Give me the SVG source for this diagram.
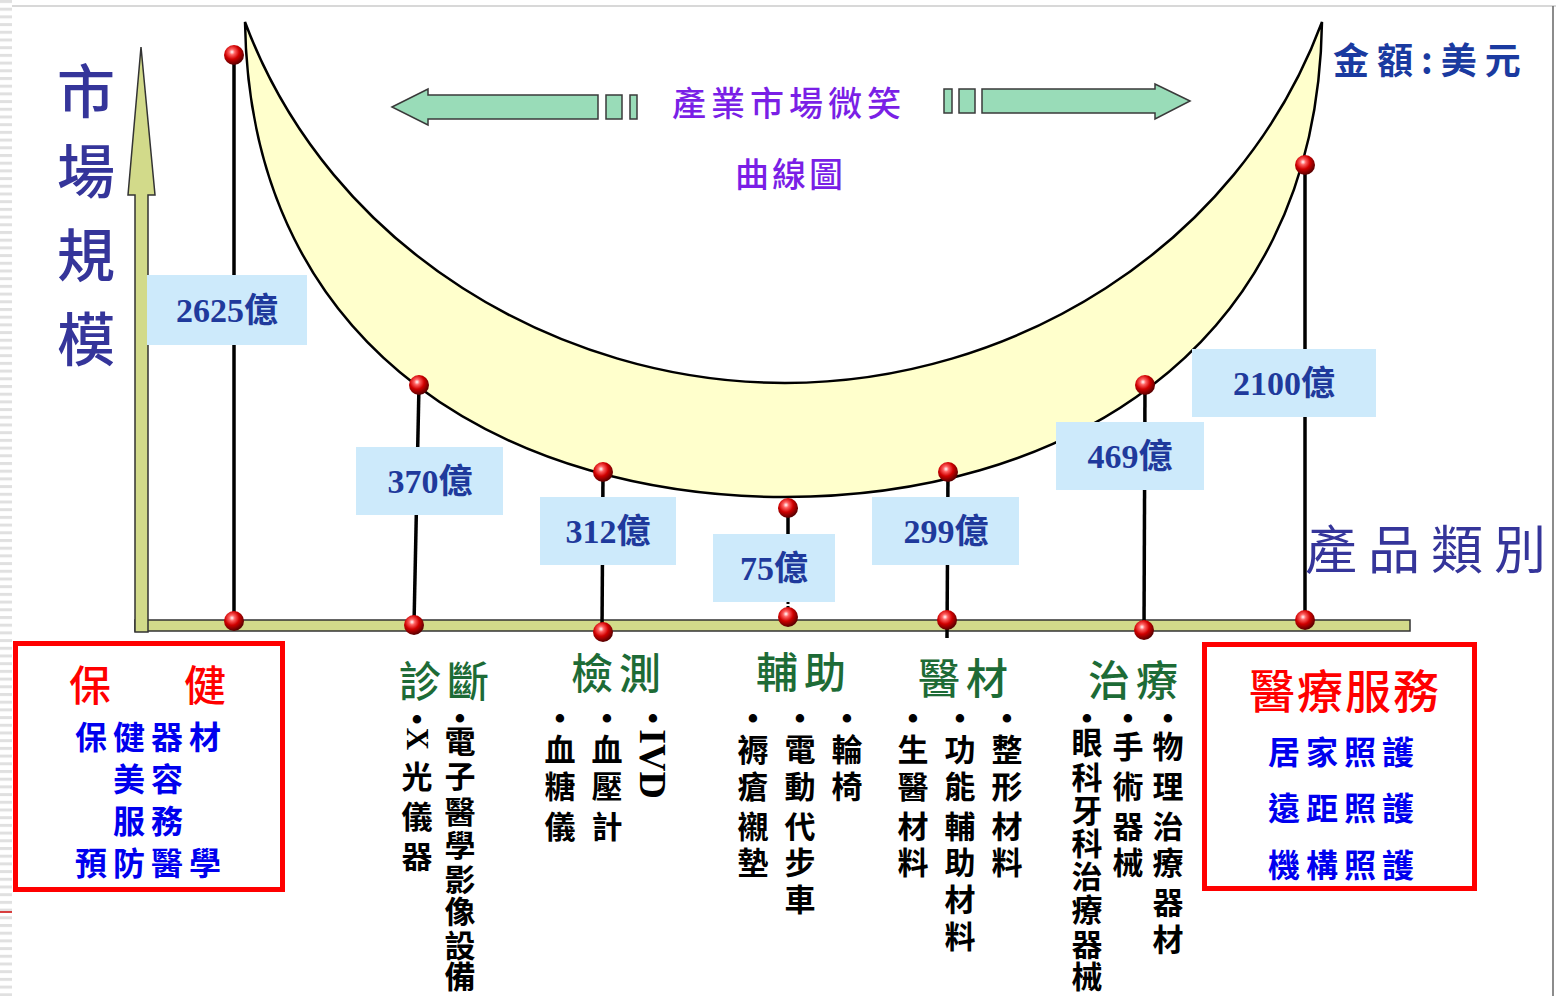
<svg xmlns="http://www.w3.org/2000/svg" width="1556" height="996" viewBox="0 0 1556 996">
<defs>
<radialGradient id="ballg" cx="0.4" cy="0.35" r="0.65">
<stop offset="0" stop-color="#ffffff"/>
<stop offset="0.22" stop-color="#ff6060"/>
<stop offset="0.55" stop-color="#d00000"/>
<stop offset="1" stop-color="#560000"/>
</radialGradient>
<pattern id="stripes" width="12" height="7.7" patternUnits="userSpaceOnUse">
<rect width="12" height="3" fill="#e0e0e0"/>
</pattern>
<style>
.cjk{font-family:'Noto Sans CJK TC','Noto Sans CJK SC',sans-serif}
.val{font-family:'Liberation Serif','Noto Sans CJK TC',serif;font-weight:bold;font-size:34px;fill:#1f3a9c;text-anchor:middle;dominant-baseline:central}
.vbox{fill:#cdeafb}
.stem{stroke:#000;stroke-width:3.5;fill:none}
.ball{fill:url(#ballg)}
.cat{font-family:'Noto Sans CJK TC','Noto Sans CJK SC',sans-serif;font-size:42px;font-weight:500;fill:#1d6b36;text-anchor:middle;dominant-baseline:central;letter-spacing:6px}
.col{font-family:'Liberation Serif','Noto Sans CJK TC',serif;font-size:31px;font-weight:bold;fill:#000;text-anchor:middle;dominant-baseline:central}
.arrow{fill:#99dcb8;stroke:#3a3a3a;stroke-width:1.5}
.redbox{fill:#fff;stroke:#ff0000;stroke-width:5}
.axis{fill:#d2da8a;stroke:#333;stroke-width:1.5}
.blue{font-family:'Noto Sans CJK TC','Noto Sans CJK SC',sans-serif;font-size:32px;font-weight:bold;fill:#0000ee;text-anchor:middle;dominant-baseline:central;letter-spacing:6px}
.redt{font-family:'Noto Sans CJK TC','Noto Sans CJK SC',sans-serif;font-size:42px;font-weight:500;fill:#ff0000;text-anchor:middle;dominant-baseline:central}
.purple{font-family:'Noto Sans CJK TC','Noto Sans CJK SC',sans-serif;font-size:34px;font-weight:500;fill:#7a1fe6;dominant-baseline:central}
</style>
</defs>
<rect width="1556" height="996" fill="#ffffff"/>
<g id="frame">
<rect x="0" y="0" width="12" height="996" fill="url(#stripes)"/>
<line x1="0" y1="912" x2="12" y2="912" stroke="#cc0000" stroke-width="1.5"/>
<line x1="12" y1="6" x2="1556" y2="6" stroke="#d8d8d8" stroke-width="2"/>
<line x1="1553" y1="6" x2="1553" y2="996" stroke="#666" stroke-width="1.5"/>
</g>
<g id="crescent">
<path d="M245,22 C250,360 520,497 785,497 C1050,497 1317,360 1322,22 C1237,250 1010,383 785,383 C560,383 330,250 245,22 Z" fill="#ffffcc" stroke="#000" stroke-width="2.5"/>
</g>
<g id="axes">
<rect class="axis" x="135" y="620" width="1275" height="11"/>
<polygon class="axis" points="141,47 155,195 148,195 148,632 135,632 135,195 128,195"/>
</g>
<g id="connectors">
<path class="stem" d="M234,55 L234,621"/>
<path class="stem" d="M419,385 L414,625"/>
<path class="stem" d="M603,472 L602,632"/>
<path class="stem" d="M788,508 L788,540"/>
<path d="M788,602 L788,613" stroke="#000" stroke-width="3" stroke-dasharray="2,2"/>
<path class="stem" d="M948,472 L947,638"/>
<path class="stem" d="M1145,385 L1144,630"/>
<path class="stem" d="M1305,165 L1305,620"/>
</g>
<g id="values">
<g id="v2625"><rect class="vbox" x="147" y="275" width="160" height="70"/><text class="val" x="227" y="310">2625億</text></g>
<g id="v370"><rect class="vbox" x="356" y="447" width="147" height="68"/><text class="val" x="430" y="481">370億</text></g>
<g id="v312"><rect class="vbox" x="540" y="497" width="136" height="68"/><text class="val" x="608" y="531">312億</text></g>
<g id="v75"><rect class="vbox" x="713" y="534" width="122" height="68"/><text class="val" x="774" y="568">75億</text></g>
<g id="v299"><rect class="vbox" x="872" y="497" width="147" height="68"/><text class="val" x="946" y="531">299億</text></g>
<g id="v469"><rect class="vbox" x="1056" y="422" width="148" height="68"/><text class="val" x="1130" y="456">469億</text></g>
<g id="v2100"><rect class="vbox" x="1192" y="349" width="184" height="68"/><text class="val" x="1284" y="383">2100億</text></g>
</g>
<g id="balls">
<circle class="ball" cx="234" cy="55" r="10"/>
<circle class="ball" cx="234" cy="621" r="10"/>
<circle class="ball" cx="419" cy="385" r="10"/>
<circle class="ball" cx="414" cy="625" r="10"/>
<circle class="ball" cx="603" cy="472" r="10"/>
<circle class="ball" cx="603" cy="632" r="10"/>
<circle class="ball" cx="788" cy="508" r="10"/>
<circle class="ball" cx="788" cy="617" r="10"/>
<circle class="ball" cx="948" cy="472" r="10"/>
<circle class="ball" cx="947" cy="620" r="10"/>
<circle class="ball" cx="1145" cy="385" r="10"/>
<circle class="ball" cx="1144" cy="630" r="10"/>
<circle class="ball" cx="1305" cy="165" r="10"/>
<circle class="ball" cx="1305" cy="620" r="10"/>
</g>
<g id="title">
<polygon class="arrow" points="392,107 428,89 428,95 598,95 598,119 428,119 428,125"/>
<rect class="arrow" x="606" y="95" width="16" height="24"/>
<rect class="arrow" x="630" y="95" width="7" height="24"/>
<text class="purple" x="672" y="101" style="letter-spacing:5px">產業市場微笑</text>
<text class="purple" x="735" y="172" style="letter-spacing:3px">曲線圖</text>
<rect class="arrow" x="944" y="89" width="8" height="24"/>
<rect class="arrow" x="959" y="89" width="16" height="24"/>
<polygon class="arrow" points="1190,101 1155,84 1155,89 982,89 982,113 1155,113 1155,119"/>
</g>
<g id="axis-labels">
<text class="cjk" x="86 86 86 86" y="88 168 252 336" font-size="58" font-weight="500" fill="#35359a" text-anchor="middle" dominant-baseline="central">市場規模</text>
<text class="cjk" x="1305" y="546" font-size="52" fill="#35359a" dominant-baseline="central" style="letter-spacing:11px">產品類別</text>
<text class="cjk" x="1333" y="58" font-size="36" font-weight="bold" fill="#1a3aa0" dominant-baseline="central" style="letter-spacing:8px">金額:美元</text>
</g>
<g id="node-health">
<rect class="redbox" x="15.5" y="643.5" width="267" height="246"/>
<text class="redt" x="90 205" y="682 682">保健</text>
<text class="blue" x="151" y="735">保健器材</text>
<text class="blue" x="151" y="777">美容</text>
<text class="blue" x="151" y="819">服務</text>
<text class="blue" x="151" y="861">預防醫學</text>
</g>
<g id="node-diagnosis">
<text class="cat" x="447" y="678">診斷</text>
<text class="col" x="417 417 417 417" y="719 777 817 857">•光儀器</text>
<text class="col" transform="translate(417,739) rotate(90)">X</text>
<text class="col" x="460 460 460 460 460 460 460 460 460" y="718 742 777 812 846 880 912 946 977">•電子醫學影像設備</text>
</g>
<g id="node-testing">
<text class="cat" x="619" y="670">檢測</text>
<text class="col" x="560 560 560 560" y="718 750 787 827">•血糖儀</text>
<text class="col" x="607 607 607 607" y="718 750 787 827">•血壓計</text>
<text class="col" x="653" y="718">•</text>
<text class="col" transform="translate(653,764) rotate(90)" style="font-size:38px">IVD</text>
</g>
<g id="node-assist">
<text class="cat" x="804" y="669">輔助</text>
<text class="col" x="753 753 753 753 753" y="718 750 787 827 863">•褥瘡襯墊</text>
<text class="col" x="800 800 800 800 800 800" y="718 750 787 827 863 900">•電動代步車</text>
<text class="col" x="847 847 847" y="718 750 787">•輪椅</text>
</g>
<g id="node-material">
<text class="cat" x="966" y="675">醫材</text>
<text class="col" x="913 913 913 913 913" y="718 750 787 827 863">•生醫材料</text>
<text class="col" x="960 960 960 960 960 960 960" y="718 750 787 827 863 900 937">•功能輔助材料</text>
<text class="col" x="1007 1007 1007 1007 1007" y="718 750 787 827 863">•整形材料</text>
</g>
<g id="node-treatment">
<text class="cat" x="1136" y="677">治療</text>
<text class="col" x="1087 1087 1087 1087 1087 1087 1087 1087 1087" y="718 743 778 811 844 877 910 945 977">•眼科牙科治療器械</text>
<text class="col" x="1128 1128 1128 1128 1128" y="718 747 787 827 863">•手術器械</text>
<text class="col" x="1168 1168 1168 1168 1168 1168 1168" y="718 747 787 827 863 903 940">•物理治療器材</text>
</g>
<g id="node-service">
<rect class="redbox" x="1204.5" y="644.5" width="270" height="244"/>
<text class="redt" x="1345" y="688" style="font-size:46px;letter-spacing:2px">醫療服務</text>
<text class="blue" x="1344" y="750">居家照護</text>
<text class="blue" x="1344" y="806">遠距照護</text>
<text class="blue" x="1344" y="863">機構照護</text>
</g>
</svg>
